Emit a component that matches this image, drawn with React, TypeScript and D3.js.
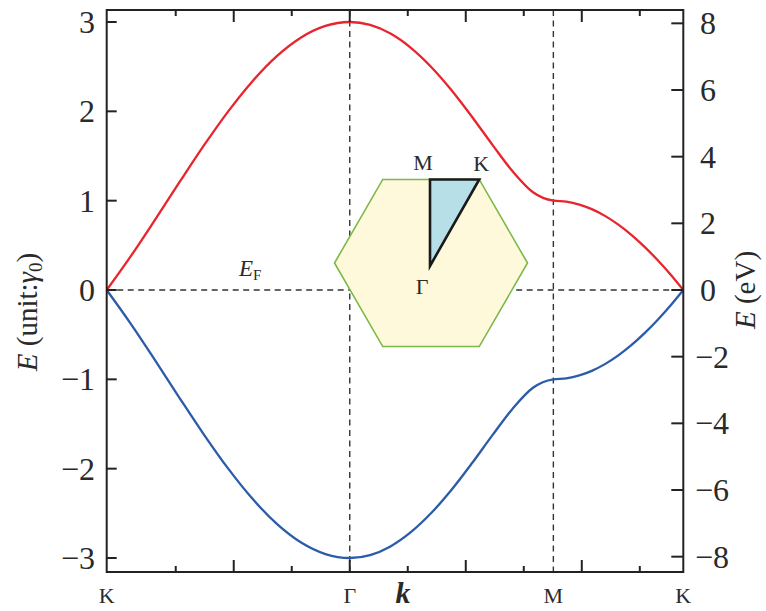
import React from "react";
import * as d3 from "d3";

// High-symmetry points along the path K – Γ – M – K (position on the k axis)
const pointNames = ["K", "Γ", "M", "K"];
const pointK = [-4.19, 0, 3.51, 5.75];

// Sampling fractions inside each path segment
const samples = [0, 0.1, 0.2, 0.3, 0.4, 0.5, 0.6, 0.7, 0.8, 0.9, 1];

// π* (conduction) band, units of γ0
const condKG = [0, 0.382, 0.791, 1.209, 1.618, 2.0, 2.338, 2.618, 2.827, 2.956, 3.0];
const condGM = [3.0, 2.967, 2.87, 2.711, 2.497, 2.236, 1.94, 1.628, 1.328, 1.094, 1.0];
const condMK = [1.0, 0.989, 0.956, 0.902, 0.827, 0.732, 0.618, 0.486, 0.338, 0.176, 0];

// π (valence) band, units of γ0
const valKG = [0, -0.382, -0.791, -1.209, -1.618, -2.0, -2.338, -2.618, -2.827, -2.956, -3.0];
const valGM = [-3.0, -2.967, -2.87, -2.711, -2.497, -2.236, -1.94, -1.628, -1.328, -1.094, -1.0];
const valMK = [-1.0, -0.989, -0.956, -0.902, -0.827, -0.732, -0.618, -0.486, -0.338, -0.176, 0];

// Axis ticks
const kTicks = [-3, -2, -1, 0, 1, 2, 3, 4, 5];
const gammaTicks = [-3, -2, -1, 0, 1, 2, 3];
const evTicks = [-8, -6, -4, -2, 0, 2, 4, 6, 8];
const gamma0eV = 2.68;

const W = 766;
const H = 611;
const frame = { left: 106.7, right: 683.3, top: 10, bottom: 572 };
const FONT = "'Liberation Serif', 'Times New Roman', Times, serif";

function bandPoints(segs: number[][]) {
  const pts: [number, number][] = [];
  segs.forEach((vals, i) => {
    const k0 = pointK[i];
    const k1 = pointK[i + 1];
    vals.forEach((v, j) => {
      if (i > 0 && j === 0) return;
      pts.push([k0 + samples[j] * (k1 - k0), v]);
    });
  });
  return pts;
}

export default function App() {
  const x = d3.scaleLinear().domain([pointK[0], pointK[3]]).range([frame.left, frame.right]);
  const y = d3.scaleLinear().domain([-3, 3]).range([558, 22]);
  const yEv = (v: number) => y(v / gamma0eV);

  const line = d3
    .line<[number, number]>()
    .x((d) => x(d[0]))
    .y((d) => y(d[1]))
    .curve(d3.curveMonotoneX);

  const cond = bandPoints([condKG, condGM, condMK]);
  const val = bandPoints([valKG, valGM, valMK]);

  // Brillouin-zone inset
  const hexC = { x: 431, y: 263 };
  const hexR = 96.5;
  const hex = d3.range(6).map((i) => {
    const a = (Math.PI / 3) * i;
    return [hexC.x + hexR * Math.cos(a), hexC.y - hexR * Math.sin(a)];
  });
  const hexPath = "M" + hex.map((p) => p.join(",")).join("L") + "Z";
  const gP = [hexC.x - 1, hexC.y + 3];
  const mP = [hexC.x - 1, hexC.y - hexR * Math.sin(Math.PI / 3)];
  const kP = hex[1];
  const triPath = `M${gP.join(",")}L${mP.join(",")}L${kP.join(",")}Z`;

  const dash = "6,4.5";
  const axisColor = "#222";
  const textColor = "#2a2a2a";
  const tickFont = 32;

  return (
    <svg
      width={W}
      height={H}
      viewBox={`0 0 ${W} ${H}`}
      style={{ position: "absolute", left: 0, top: 0, background: "#fff" }}
      fontFamily={FONT}
    >
      {/* reference lines: Fermi level and high-symmetry points */}
      <line x1={frame.left} x2={frame.right} y1={y(0)} y2={y(0)} stroke="#333" strokeWidth={1.4} strokeDasharray={dash} />
      {[pointK[1], pointK[2]].map((k, i) => (
        <line key={i} x1={x(k)} x2={x(k)} y1={frame.top} y2={frame.bottom} stroke="#333" strokeWidth={1.4} strokeDasharray={dash} />
      ))}

      {/* bands */}
      <path d={line(cond) || ""} fill="none" stroke="#e8242c" strokeWidth={2.3} />
      <path d={line(val) || ""} fill="none" stroke="#2b5ca8" strokeWidth={2.3} />

      {/* Brillouin zone */}
      <path d={hexPath} fill="#fdf9da" stroke="#7cb84a" strokeWidth={1.6} />
      <path d={triPath} fill="#b7dfe8" stroke="#1a1a1a" strokeWidth={2.6} strokeLinejoin="miter" />
      <text x={mP[0] - 7} y={mP[1] - 9} fontSize={22} textAnchor="middle" fill={textColor}>M</text>
      <text x={kP[0] + 2} y={kP[1] - 8} fontSize={22} textAnchor="middle" fill={textColor}>K</text>
      <text x={gP[0] - 8} y={gP[1] + 28} fontSize={22} textAnchor="middle" fill={textColor}>Γ</text>

      {/* E_F label */}
      <text x={239} y={276} fontSize={23} fill={textColor}>
        <tspan fontStyle="italic">E</tspan>
        <tspan fontSize={15} dy={4}>F</tspan>
      </text>

      {/* frame */}
      <rect
        x={frame.left}
        y={frame.top}
        width={frame.right - frame.left}
        height={frame.bottom - frame.top}
        fill="none"
        stroke={axisColor}
        strokeWidth={2}
      />

      {/* k ticks (top and bottom) */}
      {kTicks.map((k) => {
        const len = k % 2 === 0 ? 12 : 6;
        return (
          <g key={k} stroke={axisColor} strokeWidth={2}>
            <line x1={x(k)} x2={x(k)} y1={frame.bottom} y2={frame.bottom - len} />
            <line x1={x(k)} x2={x(k)} y1={frame.top} y2={frame.top + len} />
          </g>
        );
      })}

      {/* left axis: units of γ0 */}
      {gammaTicks.map((t) => (
        <g key={t}>
          <line x1={frame.left} x2={frame.left + 10} y1={y(t)} y2={y(t)} stroke={axisColor} strokeWidth={2} />
          <text x={95} y={y(t) + 11} fontSize={tickFont} textAnchor="end" fill={textColor}>
            {t < 0 ? `−${-t}` : t}
          </text>
        </g>
      ))}

      {/* right axis: eV */}
      {evTicks.map((t) => (
        <g key={t}>
          <line x1={frame.right} x2={frame.right - 12} y1={yEv(t)} y2={yEv(t)} stroke={axisColor} strokeWidth={2} />
          <text x={t < 0 ? 695 : 700} y={yEv(t) + 11} fontSize={tickFont} textAnchor="start" fill={textColor}>
            {t < 0 ? `−${-t}` : t}
          </text>
        </g>
      ))}

      {/* k-point labels */}
      {pointNames.map((n, i) => (
        <text key={i} x={x(pointK[i])} y={603} fontSize={22} textAnchor="middle" fill={textColor}>
          {n}
        </text>
      ))}
      <text x={403} y={603} fontSize={30} fontStyle="italic" fontWeight="bold" textAnchor="middle" fill={textColor}>
        k
      </text>

      {/* axis titles */}
      <text transform={`translate(37, 312) rotate(-90)`} fontSize={29} textAnchor="middle" fill={textColor}>
        <tspan fontStyle="italic">E</tspan>
        <tspan> (unit:</tspan>
        <tspan fontStyle="italic">γ</tspan>
        <tspan fontSize={19} dy={5}>0</tspan>
        <tspan dy={-5}>)</tspan>
      </text>
      <text transform={`translate(755, 290) rotate(-90)`} fontSize={29} textAnchor="middle" fill={textColor}>
        <tspan fontStyle="italic">E</tspan>
        <tspan> (eV)</tspan>
      </text>
    </svg>
  );
}
